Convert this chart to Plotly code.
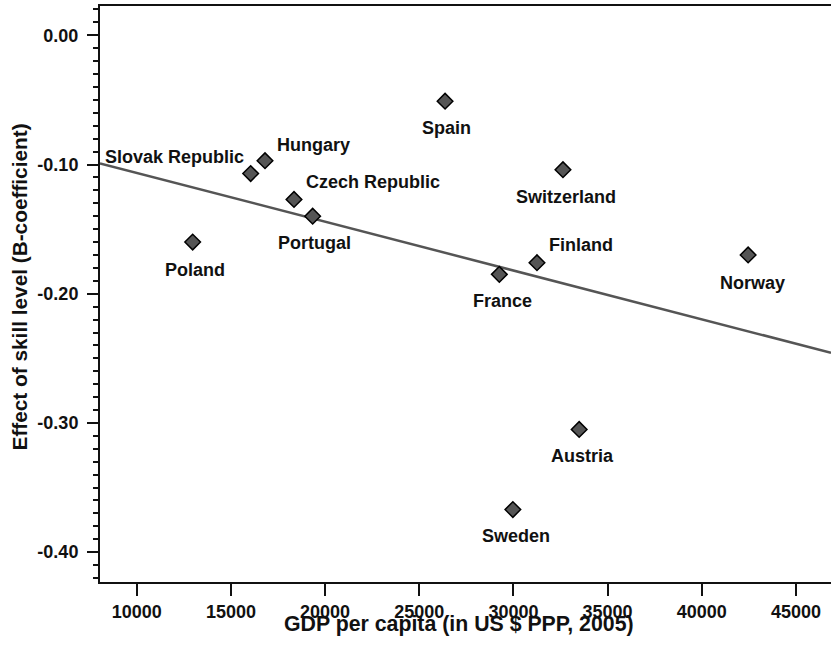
import plotly.graph_objects as go

# ---- data ----
countries = ["Slovak Republic", "Hungary", "Czech Republic", "Portugal", "Poland",
             "Spain", "Switzerland", "Finland", "France", "Norway", "Austria", "Sweden"]
gdp = [16050, 16810, 18350, 19340, 12970, 26370, 32630, 31250, 29250, 42460, 33490, 29970]
effect = [-0.107, -0.097, -0.127, -0.140, -0.160, -0.051, -0.104, -0.176, -0.185, -0.170, -0.305, -0.367]

fit_x = [8050, 46860]
fit_y = [-0.0991, -0.2457]

x_tick_vals = [10000, 15000, 20000, 25000, 30000, 35000, 40000, 45000]
x_tick_text = ["10000", "15000", "20000", "25000", "30000", "35000", "40000", "45000"]
y_tick_vals = [0.0, -0.1, -0.2, -0.3, -0.4]
y_tick_text = ["0.00", "-0.10", "-0.20", "-0.30", "-0.40"]

x_title = "GDP per capita (in US $ PPP, 2005)"
y_title = "Effect of skill level (B-coefficient)"

# ---- label placement (style) ----
label_pos = {
    "Slovak Republic": dict(xanchor="right", xshift=-5, yshift=17),
    "Hungary": dict(xanchor="left", xshift=10, yshift=16),
    "Czech Republic": dict(xanchor="left", xshift=10, yshift=17),
    "Portugal": dict(xanchor="center", xshift=2, yshift=-27),
    "Poland": dict(xanchor="center", xshift=2, yshift=-28),
    "Spain": dict(xanchor="center", xshift=1, yshift=-27),
    "Switzerland": dict(xanchor="center", xshift=3, yshift=-27),
    "Finland": dict(xanchor="left", xshift=10, yshift=18),
    "France": dict(xanchor="center", xshift=3, yshift=-27),
    "Norway": dict(xanchor="center", xshift=4, yshift=-28),
    "Austria": dict(xanchor="center", xshift=3, yshift=-27),
    "Sweden": dict(xanchor="center", xshift=3, yshift=-26),
}

FONT = "Liberation Sans, Arial, Helvetica, sans-serif"
INK = "#111111"

fig = go.Figure()
fig.add_trace(go.Scatter(
    x=fit_x, y=fit_y, mode="lines",
    line=dict(color="#555555", width=2.5),
    hoverinfo="skip", showlegend=False,
))
fig.add_trace(go.Scatter(
    x=gdp, y=effect, mode="markers",
    marker=dict(symbol="diamond", size=12, color="#555555",
                line=dict(color="#000000", width=1.5)),
    showlegend=False,
))

for c, gx, ey in zip(countries, gdp, effect):
    p = label_pos[c]
    fig.add_annotation(
        x=gx, y=ey, text=c, showarrow=False,
        xanchor=p["xanchor"], yanchor="middle",
        xshift=p["xshift"], yshift=p["yshift"],
        font=dict(family=FONT, size=18, color=INK, weight="bold"),
    )

# axis titles
fig.add_annotation(
    xref="paper", yref="paper", x=0.4908, y=0, yanchor="middle", xanchor="center",
    yshift=-42, text=x_title, showarrow=False,
    font=dict(family=FONT, size=21.3, color=INK, weight="bold"),
)
fig.add_annotation(
    xref="paper", yref="paper", x=0, y=0.5113, yanchor="middle", xanchor="center",
    xshift=-81, text=y_title, showarrow=False, textangle=-90,
    font=dict(family=FONT, size=20.8, color=INK, weight="bold"),
)

fig.update_layout(
    width=831, height=647,
    margin=dict(l=100, r=0, t=6, b=65),
    paper_bgcolor="white", plot_bgcolor="white",
    font=dict(family=FONT, color=INK, weight="bold"),
    xaxis=dict(
        range=[8050, 46860], automargin=False,
        tickvals=x_tick_vals, ticktext=x_tick_text,
        ticks="outside", ticklen=12, tickwidth=2, tickcolor=INK,
        showline=True, linecolor=INK, linewidth=2, mirror=True,
        showgrid=False, zeroline=False,
        tickfont=dict(family=FONT, size=18, weight="bold"),
        ticklabelstandoff=0,
    ),
    yaxis=dict(
        range=[-0.4231, 0.0227], automargin=False,
        tickvals=y_tick_vals, ticktext=y_tick_text,
        ticks="outside", ticklen=11, tickwidth=2, tickcolor=INK,
        minor=dict(dtick=0.01, ticks="outside", ticklen=5, tickwidth=2, tickcolor=INK),
        showline=True, linecolor=INK, linewidth=2,
        showgrid=False, zeroline=False,
        tickfont=dict(family=FONT, size=18, weight="bold"),
        ticklabelstandoff=5,
    ),
)

# remove the page's default body margin so the figure sits at the window's corner
fig.write_html(
    "out.html",
    config={"displayModeBar": False},
    post_script="document.body.style.margin='0';document.documentElement.style.overflow='hidden';",
)
